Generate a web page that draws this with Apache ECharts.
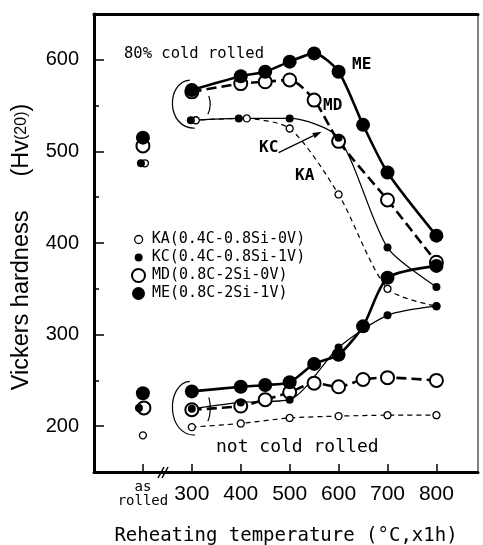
<!DOCTYPE html>
<html>
<head>
<meta charset="utf-8">
<script src="https://cdn.jsdelivr.net/npm/echarts@6/dist/echarts.min.js"></script>
<style>
  html, body { margin: 0; padding: 0; background: #fff; }
  #main { width: 483px; height: 545px; }
</style>
</head>
<body>
<div id="main"></div>
<script>
// ---- data ----
const AS_ROLLED = 200;                       // x slot used for the "as rolled" points
const xTicks = [200, 300, 400, 500, 600, 700, 800];
const yTicks = [200, 300, 400, 500, 600];
const yMinorTicks = [250, 350, 450, 550];

const names = ['KA(0.4C-0.8Si-0V)', 'KC(0.4C-0.8Si-1V)', 'MD(0.8C-2Si-0V)', 'ME(0.8C-2Si-1V)'];

// 80% cold rolled
const tempsK = [300, 400, 500, 600, 700, 800];
const kaCold = [534, 536, 525, 453, 350, 331];
const kcCold = [534, 536, 536, 515, 395, 352];
const tempsMDcold = [300, 400, 450, 500, 550, 600, 700, 800];
const mdCold = [565, 574, 576, 578, 556, 511, 447, 379];
const tempsM = [300, 400, 450, 500, 550, 600, 650, 700, 800];
const meCold = [567, 582, 587, 598, 607, 587, 529, 477, 408];

// not cold rolled
const kaHot = [199, 203, 209, 211, 212, 212];
const kcHot = [219, 226, 229, 286, 321, 331];
const mdHot = [218, 222, 229, 237, 247, 243, 251, 253, 250];
const meHot = [238, 243, 245, 248, 268, 278, 309, 362, 375];

// as rolled (KA, KC, MD, ME)
const asRolledCold = [487, 487, 506, 515];
const asRolledHot = [190, 220, 220, 236];

// ---- styles ----
const monoFont = 'DejaVu Sans Mono';
const sansFont = 'Liberation Sans';
const looks = [
  { size: 7,  open: true,  border: 1.3, width: 1.2, dash: [5, 4] },   // KA
  { size: 8,  open: false, border: 0,   width: 1.2, dash: 'solid' },  // KC
  { size: 13, open: true,  border: 2,   width: 2.6, dash: [10, 5] },  // MD
  { size: 14, open: false, border: 0,   width: 2.6, dash: 'solid' }   // ME
];

function symbolStyle(i) {
  const l = looks[i];
  return l.open
    ? { color: '#fff', borderColor: '#000', borderWidth: l.border, opacity: 1 }
    : { color: '#000', opacity: 1 };
}

function lineSeries(i, xs, ys, nudge) {
  const l = looks[i];
  return {
    name: names[i],
    type: 'line',
    smooth: 0.25,
    symbol: 'circle',
    symbolSize: l.size,
    showAllSymbol: true,
    data: xs.map((x, k) => ({
      value: [x, ys[k]],
      symbolOffset: [nudge && nudge[k] ? nudge[k] : 0, 0]
    })),
    lineStyle: { color: '#000', width: l.width, type: l.dash },
    itemStyle: symbolStyle(i),
    emphasis: { disabled: true },
    animation: false
  };
}

function asRolledSeries(i, nudgeCold, nudgeHot) {
  return {
    name: names[i],
    type: 'scatter',
    symbol: 'circle',
    symbolSize: looks[i].size,
    data: [
      { value: [AS_ROLLED, asRolledCold[i]], symbolOffset: [nudgeCold, 0] },
      { value: [AS_ROLLED, asRolledHot[i]], symbolOffset: [nudgeHot, 0] }
    ],
    itemStyle: symbolStyle(i),
    emphasis: { disabled: true },
    animation: false
  };
}

const chart = echarts.init(document.getElementById('main'), null, { renderer: 'canvas' });

const option = {
  backgroundColor: '#fff',
  animation: false,
  grid: {
    left: 94, right: 5, top: 14, bottom: 73,
    outerBoundsMode: 'none', containLabel: false,
    show: true, borderColor: '#000', borderWidth: 1, backgroundColor: 'transparent'
  },
  legend: [
    {
      data: [0, 1].map(i => ({ name: names[i], icon: 'circle', itemStyle: symbolStyle(i) })),
      orient: 'vertical', left: 129, top: 227,
      itemWidth: 8, itemHeight: 8, itemGap: 3,
      textStyle: { fontFamily: monoFont, fontSize: 15, color: '#000', padding: [0, 0, 0, 4] },
      selectedMode: false
    },
    {
      data: [2, 3].map(i => ({ name: names[i], icon: 'circle', itemStyle: symbolStyle(i) })),
      orient: 'vertical', left: 126, top: 263,
      itemWidth: 13, itemHeight: 13, itemGap: 3,
      textStyle: { fontFamily: monoFont, fontSize: 15, color: '#000', padding: [0, 0, 0, 2] },
      selectedMode: false
    }
  ],
  xAxis: [
    {
      type: 'value', min: 100, max: 885,
      name: 'Reheating temperature (°C,x1h)',
      nameLocation: 'middle', nameGap: 55,
      nameTextStyle: { fontFamily: monoFont, fontSize: 19, color: '#000' },
      axisLine: { lineStyle: { color: '#000', width: 3 } },
      axisTick: { inside: true, length: 8, customValues: xTicks, lineStyle: { color: '#000', width: 1.5 } },
      axisLabel: {
        customValues: xTicks, margin: 9, color: '#000',
        formatter: v => v === AS_ROLLED ? '{a|as}\n{b|rolled}' : '{n|' + v + '}',
        rich: {
          n: { fontFamily: sansFont, fontSize: 21, color: '#000', padding: [3, 0, 0, 0] },
          a: { fontFamily: monoFont, fontSize: 14, lineHeight: 12, color: '#000' },
          b: { fontFamily: monoFont, fontSize: 14, lineHeight: 16, color: '#000' }
        }
      },
      splitLine: { show: false }
    },
    {
      type: 'value', min: 100, max: 885, position: 'top',
      axisLine: { show: true, lineStyle: { color: '#000', width: 3 } },
      axisTick: { show: false }, axisLabel: { show: false }, splitLine: { show: false }
    }
  ],
  yAxis: [
    {
      type: 'value', min: 150, max: 650,
      name: '{a|Vickers hardness}{g|.}{a|(Hv}{s|(20)}{a|)}',
      nameLocation: 'middle', nameGap: 60,
      nameTextStyle: {
        padding: [0, 8, 0, 0],
        rich: {
          a: { fontFamily: sansFont, fontSize: 23.5, color: '#000' },
          s: { fontFamily: sansFont, fontSize: 16, color: '#000' },
          g: { fontFamily: sansFont, fontSize: 22, width: 34, color: 'rgba(0,0,0,0)' }
        }
      },
      axisLine: { lineStyle: { color: '#000', width: 3 } },
      axisTick: { inside: true, length: 10, customValues: yTicks, lineStyle: { color: '#000', width: 1.5 } },
      axisLabel: { customValues: yTicks, margin: 15, color: '#000', fontFamily: sansFont, fontSize: 20 },
      splitLine: { show: false }
    },
    {
      type: 'value', min: 150, max: 650, position: 'left',
      axisLine: { show: false },
      axisTick: { show: true, inside: true, length: 5, customValues: yMinorTicks, lineStyle: { color: '#000', width: 1.5 } },
      axisLabel: { show: false }, splitLine: { show: false }
    }
  ],
  series: [
    // cold rolled
    lineSeries(2, tempsMDcold, mdCold),
    lineSeries(3, tempsM, meCold),
    lineSeries(0, tempsK, kaCold, [4, 6]),
    lineSeries(1, tempsK, kcCold, [-1, -2]),
    // not cold rolled
    lineSeries(2, tempsM, mdHot),
    lineSeries(3, tempsM, meHot),
    lineSeries(0, tempsK, kaHot),
    lineSeries(1, tempsK, kcHot),
    // as rolled
    asRolledSeries(2, 0, 1),
    asRolledSeries(3, 0, 0),
    asRolledSeries(0, 2, 0),
    asRolledSeries(1, -2, -4)
  ]
};

chart.setOption(option);

// ---- annotations, anchored to the data through the grid ----
const px = (x, y) => chart.convertToPixel({ gridIndex: 0 }, [x, y]);
const ink = { stroke: '#000', lineWidth: 1.2, fill: null };

function bracket(top, bottom) {
  // left "(" around the 300 °C group and a short ")" mark on its right
  return [
    {
      type: 'bezierCurve', silent: true, z: 50,
      shape: {
        x1: top[0] - 2, y1: top[1] - 10,
        cpx1: top[0] - 26, cpy1: top[1] - 8,
        cpx2: bottom[0] - 26, cpy2: bottom[1] + 8,
        x2: bottom[0] + 3, y2: bottom[1] + 8
      },
      style: ink
    },
    {
      type: 'bezierCurve', silent: true, z: 50,
      shape: {
        x1: top[0] + 17, y1: top[1] + 6,
        cpx1: top[0] + 19, cpy1: top[1] + 12,
        cpx2: bottom[0] + 19, cpy2: bottom[1] - 12,
        x2: bottom[0] + 16, y2: bottom[1] - 6
      },
      style: ink
    }
  ];
}

const coldTop = px(300, meCold[0]);
const coldBottom = px(300, kcCold[0]);
const hotTop = px(300, meHot[0]);
const hotBottom = px(300, kaHot[0]);

// KC pointer
const kcTip = px(600, kcCold[3]);
const tip = [kcTip[0] - 17, kcTip[1] - 6];
const tail = [kcTip[0] - 60, kcTip[1] + 15];
const dx = tip[0] - tail[0], dy = tip[1] - tail[1];
const len = Math.hypot(dx, dy);
const ux = dx / len, uy = dy / len;
const base = [tip[0] - 9 * ux, tip[1] - 9 * uy];
const head = [
  tip,
  [base[0] + 3 * uy, base[1] - 3 * ux],
  [base[0] - 3 * uy, base[1] + 3 * ux]
];

function label(text, x, y, size, weight) {
  return {
    type: 'text', left: x, top: y, silent: true, z: 60,
    style: { text: text, fontFamily: monoFont, fontSize: size, fontWeight: weight || 'normal', fill: '#000' }
  };
}

chart.setOption({
  graphic: [
    ...bracket(coldTop, coldBottom),
    ...bracket(hotTop, hotBottom),
    { type: 'line', silent: true, z: 50, shape: { x1: tail[0], y1: tail[1], x2: base[0], y2: base[1] }, style: { stroke: '#000', lineWidth: 1.2 } },
    { type: 'polygon', silent: true, z: 50, shape: { points: head }, style: { fill: '#000' } },
    // axis break mark
    { type: 'line', silent: true, z: 55, shape: { x1: 158, y1: 478, x2: 164, y2: 467 }, style: { stroke: '#000', lineWidth: 1.5 } },
    { type: 'line', silent: true, z: 55, shape: { x1: 162, y1: 478, x2: 168, y2: 467 }, style: { stroke: '#000', lineWidth: 1.5 } },
    label('80% cold rolled', 124, 46, 15.5),
    label('ME', 352, 57, 16, 'bold'),
    label('MD', 323, 98, 16, 'bold'),
    label('KC', 259, 140, 16, 'bold'),
    label('KA', 295, 168, 16, 'bold'),
    label('not cold rolled', 216, 438, 18)
  ]
});
</script>
</body>
</html>
